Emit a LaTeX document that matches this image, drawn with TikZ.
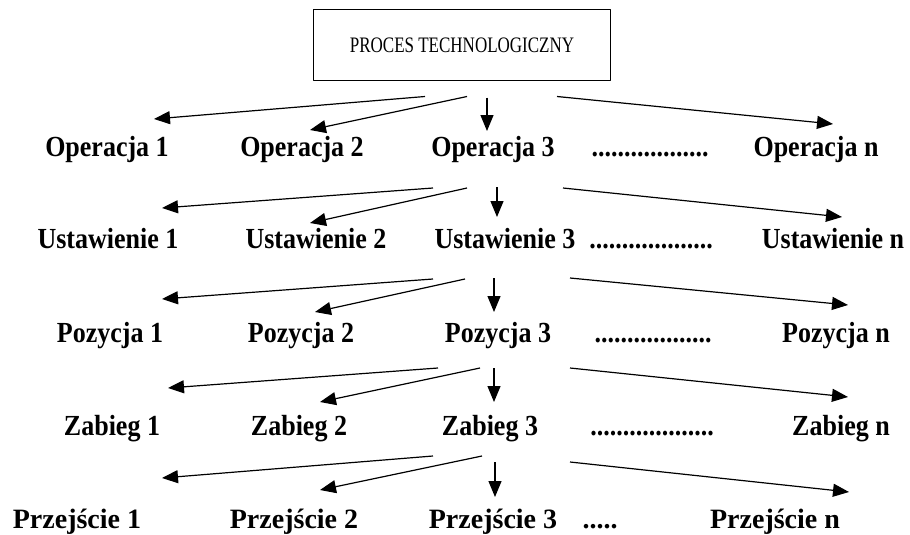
\documentclass[tikz,border=0pt]{standalone}
\usepackage{fontspec}
\setmainfont{Liberation Serif}
\usetikzlibrary{arrows.meta}
\newcommand{\tallbox}[2][1.12]{\scalebox{1}[#1]{#2}}
\tikzset{
  every picture/.style={line join=round},
  lbl/.style={font=\fontsize{26}{30}\selectfont\bfseries, inner sep=0pt, anchor=base},
  lastlbl/.style={lbl, font=\fontsize{28}{32}\selectfont\bfseries},
  arr/.style={line width=1.2pt, -{Triangle[length=16pt,width=13pt]}},
}
\begin{document}
\begin{tikzpicture}[x=1pt,y=-1pt]
\useasboundingbox (0,0) rectangle (910,535);
% top box
\node[draw, line width=1pt, minimum width=297pt, minimum height=70pt,
  font=\fontsize{17}{20}\selectfont] (proc) at (462,45) {\tallbox[1.3]{PROCES TECHNOLOGICZNY}};
% rows
\node[lbl] (o1) at (107,156) {\tallbox{Operacja 1}};
\node[lbl] (o2) at (302,156) {\tallbox{Operacja 2}};
\node[lbl] (o3) at (493,156) {\tallbox{Operacja 3}};
\node[lbl] (od) at (650,156) {\tallbox{..................}};
\node[lbl] (on) at (816,156) {\tallbox{Operacja n}};
\node[lbl] (u1) at (108,248) {\tallbox{Ustawienie 1}};
\node[lbl] (u2) at (316,248) {\tallbox{Ustawienie 2}};
\node[lbl] (u3) at (505,248) {\tallbox{Ustawienie 3}};
\node[lbl] (ud) at (651,248) {\tallbox{...................}};
\node[lbl] (un) at (833,248) {\tallbox{Ustawienie n}};
\node[lbl] (p1) at (110,342) {\tallbox{Pozycja 1}};
\node[lbl] (p2) at (301,342) {\tallbox{Pozycja 2}};
\node[lbl] (p3) at (498,342) {\tallbox{Pozycja 3}};
\node[lbl] (pd) at (653,342) {\tallbox{..................}};
\node[lbl] (pn) at (836,342) {\tallbox{Pozycja n}};
\node[lbl] (z1) at (112,435) {\tallbox{Zabieg 1}};
\node[lbl] (z2) at (299,435) {\tallbox{Zabieg 2}};
\node[lbl] (z3) at (490,435) {\tallbox{Zabieg 3}};
\node[lbl] (zd) at (652,435) {\tallbox{...................}};
\node[lbl] (zn) at (841,435) {\tallbox{Zabieg n}};
\node[lastlbl] (r1) at (77,528) {Przejście 1};
\node[lastlbl] (r2) at (294,528) {Przejście 2};
\node[lastlbl] (r3) at (493,528) {Przejście 3};
\node[lastlbl] (rd) at (600,528) {.....};
\node[lastlbl] (rn) at (775,528) {Przejście n};
% proces -> operacje
\draw[arr] ([xshift=-37pt,yshift=-16pt]proc.south) -- ([xshift=47pt,yshift=37pt]o1.base);
\draw[arr] ([xshift=5pt,yshift=-16pt]proc.south) -- ([xshift=8pt,yshift=26pt]o2.base);
\draw[arr] ([xshift=25pt,yshift=-17pt]proc.south) -- ([xshift=-6pt,yshift=25pt]o3.base);
\draw[arr] ([xshift=95pt,yshift=-16pt]proc.south) -- ([xshift=17pt,yshift=32pt]on.base);
% operacja -> ustawienia
\draw[arr] ([xshift=-60pt,yshift=-32pt]o3.base) -- ([xshift=54pt,yshift=40pt]u1.base);
\draw[arr] ([xshift=-26pt,yshift=-32pt]o3.base) -- ([xshift=-6pt,yshift=25pt]u2.base);
\draw[arr] ([xshift=4pt,yshift=-31pt]o3.base) -- ([xshift=-8pt,yshift=31pt]u3.base);
\draw[arr] ([xshift=70pt,yshift=-32pt]o3.base) -- ([xshift=9pt,yshift=31pt]un.base);
% ustawienie -> pozycje
\draw[arr] ([xshift=-72pt,yshift=-31pt]u3.base) -- ([xshift=52pt,yshift=43pt]p1.base);
\draw[arr] ([xshift=-40pt,yshift=-31pt]u3.base) -- ([xshift=14pt,yshift=30pt]p2.base);
\draw[arr] ([xshift=-11pt,yshift=-30pt]u3.base) -- ([xshift=-4pt,yshift=30pt]p3.base);
\draw[arr] ([xshift=65pt,yshift=-30pt]u3.base) -- ([xshift=12pt,yshift=37pt]pn.base);
% pozycja -> zabiegi
\draw[arr] ([xshift=-60pt,yshift=-26pt]p3.base) -- ([xshift=56pt,yshift=47pt]z1.base);
\draw[arr] ([xshift=-18pt,yshift=-26pt]p3.base) -- ([xshift=21pt,yshift=33pt]z2.base);
\draw[arr] ([xshift=-4pt,yshift=-26pt]p3.base) -- ([xshift=4pt,yshift=33pt]z3.base);
\draw[arr] ([xshift=72pt,yshift=-26pt]p3.base) -- ([xshift=7pt,yshift=38pt]zn.base);
% zabieg -> przejscia
\draw[arr] ([xshift=-57pt,yshift=-21pt]z3.base) -- ([xshift=85pt,yshift=50pt]r1.base);
\draw[arr] ([xshift=-8pt,yshift=-21pt]z3.base) -- ([xshift=26pt,yshift=38pt]r2.base);
\draw[arr] ([xshift=5pt,yshift=-27pt]z3.base) -- ([xshift=2pt,yshift=31pt]r3.base);
\draw[arr] ([xshift=80pt,yshift=-27pt]z3.base) -- ([xshift=74pt,yshift=36pt]rn.base);
\end{tikzpicture}
\end{document}
